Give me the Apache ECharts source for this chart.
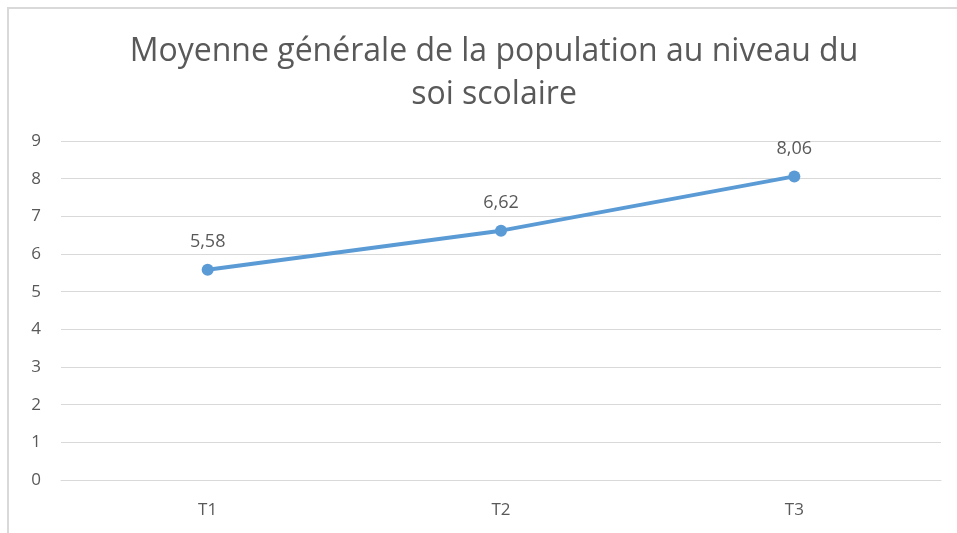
<!DOCTYPE html>
<html>
<head>
<meta charset="utf-8">
<script src="https://cdn.jsdelivr.net/npm/echarts@6/dist/echarts.min.js"></script>
<style>
  html, body { margin: 0; padding: 0; background: #ffffff; }
  #chart { width: 957px; height: 533px; }
</style>
</head>
<body>
<div id="chart"></div>
<script>
// Trimester categories and mean score per trimester
const categories = ['T1', 'T2', 'T3'];
const meanValues = [5.58, 6.62, 8.06];
const yTicks = [0, 1, 2, 3, 4, 5, 6, 7, 8, 9];

const chart = echarts.init(document.getElementById('chart'), null, { renderer: 'canvas' });

const fontFamily = '"Open Sans", "Noto Sans", "Liberation Sans", sans-serif';
const textGray = '#595959';

chart.setOption({
  animation: false,
  backgroundColor: '#ffffff',
  graphic: [
    {
      type: 'polyline',
      shape: { points: [[8, 533], [8, 8], [957, 8]] },
      style: { stroke: '#d9d9d9', lineWidth: 2, fill: null },
      silent: true
    }
  ],
  title: {
    text: 'Moyenne générale de la population au niveau du\nsoi scolaire',
    left: 489,
    textAlign: 'center',
    top: 25,
    textStyle: {
      fontFamily: fontFamily,
      fontSize: 32,
      fontWeight: 'normal',
      color: textGray,
      lineHeight: 43
    }
  },
  grid: {
    left: 61,
    right: 16,
    top: 141,
    bottom: 53,
    containLabel: false
  },
  xAxis: {
    type: 'category',
    data: categories,
    boundaryGap: true,
    axisLine: { show: true, lineStyle: { color: '#d9d9d9', width: 1 } },
    axisTick: { show: false },
    axisLabel: {
      color: textGray,
      fontFamily: fontFamily,
      fontSize: 17,
      margin: 22
    },
    splitLine: { show: false }
  },
  yAxis: {
    type: 'value',
    min: yTicks[0],
    max: yTicks[yTicks.length - 1],
    interval: 1,
    axisLine: { show: false },
    axisTick: { show: false },
    axisLabel: {
      color: textGray,
      fontFamily: fontFamily,
      fontSize: 17,
      margin: 20
    },
    splitLine: { show: true, lineStyle: { color: '#d9d9d9', width: 1 } }
  },
  series: [
    {
      type: 'line',
      data: meanValues,
      symbol: 'circle',
      symbolSize: 12,
      lineStyle: { color: '#5b9bd5', width: 4 },
      itemStyle: { color: '#5b9bd5' },
      label: {
        show: true,
        position: 'top',
        distance: 13,
        color: textGray,
        fontFamily: fontFamily,
        fontSize: 18,
        formatter: (p) => p.value.toFixed(2).replace('.', ',')
      }
    }
  ]
});
</script>
</body>
</html>
